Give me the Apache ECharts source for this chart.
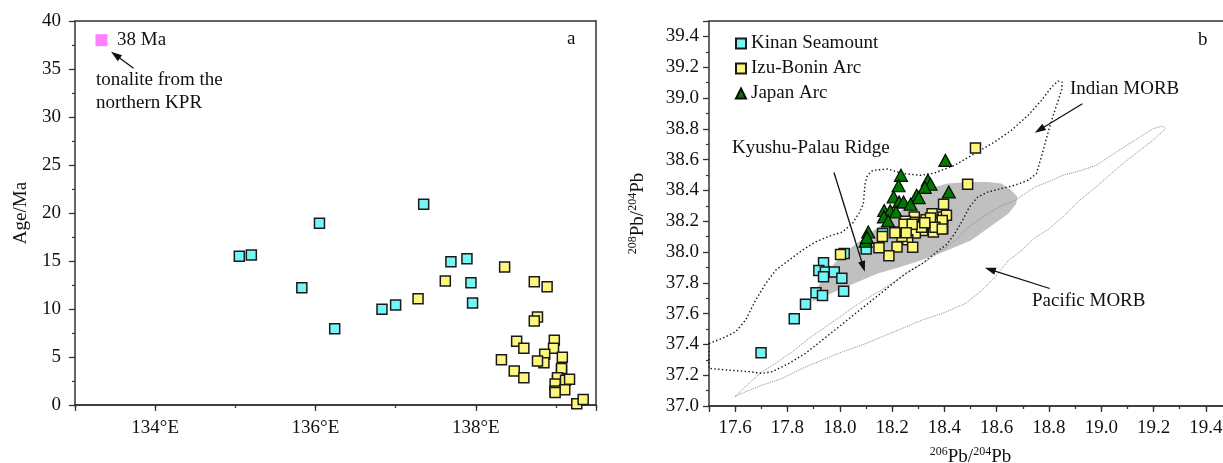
<!DOCTYPE html>
<html>
<head>
<meta charset="utf-8">
<script src="https://cdn.jsdelivr.net/npm/echarts@6/dist/echarts.min.js"></script>
<style>
html,body{margin:0;padding:0;background:#fff;}
#c{width:1223px;height:463px;}
</style>
</head>
<body>
<div id="c"></div>
<script>
// ---------- Panel a: longitude vs age ----------
const leftKinan = [[135.05,15.49],[135.20,15.63],[136.05,18.93],[135.83,12.22],[136.24,7.95],[137.35,20.91],[137.69,14.93],[137.89,15.24],[137.94,12.74],[137.96,10.63],[136.83,9.97],[137.00,10.42]];
const leftIzu = [[138.36,14.38],[137.62,12.92],[138.73,12.84],[138.89,12.32],[137.28,11.07],[138.77,9.17],[138.73,8.75],[138.51,6.64],[138.60,5.91],[138.32,4.72],[138.48,3.54],[138.60,2.84],[138.98,6.74],[138.97,5.91],[139.08,4.97],[138.86,5.28],[138.85,4.41],[138.77,4.58],[139.07,3.65],[139.07,3.8],[139.02,2.57],[139.02,2.85],[139.12,2.57],[139.17,2.68],[138.99,2.19],[139.11,1.59],[138.99,1.46],[138.99,1.3],[139.26,0.12],[139.34,0.56]];
const tonalite = [[133.33,38.0]];
const leftArrows = [[[133.73,35.07],[133.45,36.8]]];

// ---------- Panel b: 206Pb/204Pb vs 208Pb/204Pb ----------
const rightKinan = [[17.699,37.346],[17.826,37.566],[17.869,37.661],[17.909,37.735],[17.934,37.718],[18.015,37.745],[17.938,37.93],[17.92,37.88],[17.945,37.87],[17.938,37.84],[17.979,37.87],[18.008,37.83],[18.017,37.99],[18.101,38.02],[18.164,38.12]];
const rightIzu = [[18.519,38.675],[18.489,38.44],[18.397,38.31],[18.395,38.228],[18.408,38.239],[18.394,38.152],[18.353,38.249],[18.368,38.189],[18.33,38.21],[18.317,38.14],[18.358,38.13],[18.285,38.228],[18.283,38.193],[18.251,38.2],[18.256,38.135],[18.289,38.124],[18.26,38.08],[18.238,38.10],[18.215,38.13],[18.163,38.10],[18.219,38.033],[18.188,37.975],[18.15,38.027],[18.279,38.031],[18.003,37.984],[18.313,38.16],[18.347,38.22],[18.392,38.205],[18.364,38.16],[18.246,38.18],[18.277,38.18],[18.325,38.19],[18.211,38.125],[18.254,38.125],[18.392,38.15]];
const rightJapan = [[18.404,38.595],[18.234,38.498],[18.225,38.43],[18.337,38.466],[18.347,38.44],[18.325,38.42],[18.417,38.39],[18.206,38.357],[18.227,38.325],[18.244,38.325],[18.294,38.368],[18.271,38.31],[18.302,38.353],[18.17,38.27],[18.193,38.267],[18.215,38.26],[18.169,38.228],[18.185,38.202],[18.109,38.13],[18.099,38.07],[18.104,38.095]];
const indianMORB = [[17.5,37.406],[17.551,37.439],[17.602,37.482],[17.64,37.558],[17.678,37.687],[17.717,37.795],[17.755,37.882],[17.806,37.947],[17.857,38.012],[17.908,38.066],[17.959,38.102],[18.01,38.13],[18.048,38.185],[18.073,38.25],[18.09,38.31],[18.097,38.444],[18.106,38.498],[18.126,38.53],[18.183,38.539],[18.241,38.509],[18.311,38.498],[18.362,38.513],[18.439,38.563],[18.516,38.639],[18.592,38.714],[18.656,38.79],[18.72,38.887],[18.771,38.984],[18.81,39.071],[18.835,39.11],[18.851,39.103],[18.848,39.049],[18.829,38.952],[18.81,38.855],[18.79,38.736],[18.771,38.617],[18.752,38.509],[18.72,38.466],[18.669,38.433],[18.618,38.412],[18.567,38.39],[18.528,38.358],[18.496,38.293],[18.468,38.2],[18.44,38.12],[18.41,38.05],[18.379,38.012],[18.315,37.925],[18.251,37.86],[18.188,37.774],[18.124,37.687],[18.06,37.601],[17.997,37.514],[17.933,37.428],[17.869,37.342],[17.806,37.277],[17.742,37.223],[17.704,37.212],[17.653,37.223],[17.576,37.233],[17.5,37.244],[17.5,37.406]];
const pacificMORB = [[17.599,37.061],[17.653,37.147],[17.697,37.216],[17.755,37.277],[17.818,37.352],[17.882,37.439],[17.946,37.514],[18.01,37.59],[18.073,37.666],[18.137,37.731],[18.2,37.795],[18.264,37.871],[18.328,37.936],[18.392,38.012],[18.443,38.077],[18.493,38.163],[18.557,38.239],[18.621,38.304],[18.672,38.336],[18.746,38.422],[18.797,38.455],[18.853,38.498],[18.925,38.53],[18.98,38.563],[19.05,38.64],[19.107,38.703],[19.197,38.8],[19.235,38.818],[19.245,38.8],[19.197,38.725],[19.14,38.65],[19.082,38.574],[18.98,38.422],[18.917,38.336],[18.853,38.228],[18.8,38.15],[18.742,38.087],[18.697,38.012],[18.646,37.947],[18.595,37.839],[18.544,37.752],[18.481,37.666],[18.392,37.601],[18.315,37.558],[18.239,37.504],[18.162,37.45],[18.086,37.396],[18.01,37.352],[17.933,37.298],[17.857,37.244],[17.78,37.179],[17.704,37.136],[17.64,37.093],[17.599,37.061]];
const kprField = [[17.895,37.677],[17.966,37.731],[18.055,37.795],[18.145,37.86],[18.234,37.904],[18.311,37.947],[18.413,38.012],[18.503,38.077],[18.592,38.185],[18.644,38.249],[18.675,38.314],[18.679,38.358],[18.656,38.401],[18.618,38.444],[18.567,38.455],[18.49,38.455],[18.413,38.444],[18.362,38.422],[18.324,38.39],[18.285,38.336],[18.234,38.271],[18.183,38.206],[18.132,38.141],[18.081,38.077],[18.03,38.012],[17.979,37.925],[17.94,37.839],[17.908,37.752],[17.895,37.677]];
const rightArrows = [
  [[18.928,38.963],[18.746,38.775]],   // Indian MORB
  [[17.978,38.516],[18.096,37.871]],   // Kyushu-Palau Ridge
  [[18.803,37.763],[18.555,37.897]]    // Pacific MORB
];

const legendNames = ['Kinan Seamount','Izu-Bonin Arc','Japan Arc'];

const FONT = 'Liberation Serif';
const FS = 19;
const TXT = '#111';
const AX = '#333';
const CYAN = '#74f6f6';
const YEL = '#fdf77c';
const GREEN = '#007a00';

function evenTenth(v){ const t = Math.round(v*10); return Math.abs(v*10 - t) < 1e-6 && t % 2 === 0; }

const chart = echarts.init(document.getElementById('c'), null, {renderer:'canvas'});

const tickLine = {lineStyle:{color:AX, width:1.3}};
const baseAxisLine = {show:true, onZero:false, lineStyle:{color:AX, width:1.5}};
const labelStyle = {fontFamily:FONT, fontSize:FS, color:TXT};

function arrowSeries(xi, yi, arrows){
  return {
    type:'custom', xAxisIndex:xi, yAxisIndex:yi, silent:true, z:8,
    data: arrows.map(a => [a[1][0], a[1][1]]),
    renderItem:(params, api)=>{
      const a = arrows[params.dataIndex];
      const p0 = api.coord(a[0]), p1 = api.coord(a[1]);
      const dx = p1[0]-p0[0], dy = p1[1]-p0[1];
      const L = Math.hypot(dx, dy) || 1;
      const ux = dx/L, uy = dy/L;
      const hl = 11, hw = 3.6;
      const b = [p1[0]-ux*hl, p1[1]-uy*hl];
      const l = [b[0]-uy*hw, b[1]+ux*hw];
      const r = [b[0]+uy*hw, b[1]-ux*hw];
      return {type:'group', children:[
        {type:'line', shape:{x1:p0[0], y1:p0[1], x2:b[0]+ux*2, y2:b[1]+uy*2}, style:{stroke:'#111', lineWidth:1.3}},
        {type:'polygon', shape:{points:[p1, l, r]}, style:{fill:'#111'}}
      ]};
    }
  };
}

const supRich = {
  n:{fontFamily:FONT, fontSize:FS, color:TXT, lineHeight:22},
  s:{fontFamily:FONT, fontSize:12, color:TXT, verticalAlign:'top', lineHeight:14, padding:[0,0,6,0]}
};

const tf = FS + 'px "Liberation Serif"';

chart.setOption({
  animation:false,
  backgroundColor:'#fff',
  grid:[
    {left:75, top:21, width:521, height:384, containLabel:false, outerBoundsMode:'none'},
    {left:709, top:21, width:523, height:385, containLabel:false, outerBoundsMode:'none'}
  ],
  legend:{
    data:[{name:'Kinan Seamount', icon:'rect'},{name:'Izu-Bonin Arc', icon:'rect'},{name:'Japan Arc', icon:'triangle'}],
    orient:'vertical', left:730, top:29, padding:5, itemWidth:10, itemHeight:10, itemGap:6,
    selectedMode:false, textStyle:{fontFamily:FONT, fontSize:FS, color:TXT}
  },
  xAxis:[
    {type:'value', gridIndex:0, min:133, max:139.5, interval:1, position:'bottom',
     axisLine:baseAxisLine, axisTick:{show:true, length:3, ...tickLine}, axisLabel:{show:false}, splitLine:{show:false}},
    {type:'value', gridIndex:0, min:133, max:139.5, splitNumber:3, position:'bottom',
     axisLine:baseAxisLine, axisTick:{show:true, length:6, ...tickLine},
     axisLabel:{...labelStyle, margin:14, hideOverlap:false,
       formatter:v=>{const r=Math.round(v); return (Math.abs(v-r)<1e-6 && r%2===0)? r+'°E' : '';}},
     splitLine:{show:false}},
    {type:'value', gridIndex:0, min:133, max:139.5, position:'top',
     axisLine:baseAxisLine, axisTick:{show:false}, axisLabel:{show:false}, splitLine:{show:false}},
    {type:'value', gridIndex:1, min:17.5, max:19.5, interval:0.1, position:'bottom',
     axisLine:baseAxisLine, axisTick:{show:true, length:3, ...tickLine}, axisLabel:{show:false}, splitLine:{show:false}},
    {type:'value', gridIndex:1, min:17.5, max:19.5, splitNumber:10, position:'bottom',
     axisLine:baseAxisLine, axisTick:{show:true, length:6, ...tickLine},
     axisLabel:{...labelStyle, margin:13, hideOverlap:false, formatter:v=>evenTenth(v)? v.toFixed(1) : ''},
     splitLine:{show:false},
     name:'{s|206}{n|Pb/}{s|204}{n|Pb}', nameLocation:'middle', nameGap:40,
     nameTextStyle:{fontFamily:FONT, fontSize:FS, color:TXT, rich:supRich}},
    {type:'value', gridIndex:1, min:17.5, max:19.5, position:'top',
     axisLine:baseAxisLine, axisTick:{show:false}, axisLabel:{show:false}, splitLine:{show:false}}
  ],
  yAxis:[
    {type:'value', gridIndex:0, min:0, max:40, interval:5, position:'left',
     axisLine:baseAxisLine, axisTick:{show:true, length:6, ...tickLine},
     minorTick:{show:true, splitNumber:2, length:3, lineStyle:{color:AX, width:1.2}},
     axisLabel:{...labelStyle, margin:14}, splitLine:{show:false}, minorSplitLine:{show:false},
     name:'Age/Ma', nameLocation:'middle', nameGap:44,
     nameTextStyle:{fontFamily:FONT, fontSize:FS, color:TXT}},
    {type:'value', gridIndex:0, min:0, max:40, position:'right',
     axisLine:baseAxisLine, axisTick:{show:false}, axisLabel:{show:false}, splitLine:{show:false}},
    {type:'value', gridIndex:1, min:37, max:39.5, interval:0.2, position:'left',
     axisLine:baseAxisLine, axisTick:{show:true, length:6, ...tickLine},
     minorTick:{show:true, splitNumber:2, length:3, lineStyle:{color:AX, width:1.2}},
     axisLabel:{...labelStyle, margin:10, formatter:v=>evenTenth(v)? v.toFixed(1) : ''},
     splitLine:{show:false}, minorSplitLine:{show:false},
     name:'{s|208}{n|Pb/}{s|204}{n|Pb}', nameLocation:'middle', nameGap:60,
     nameTextStyle:{fontFamily:FONT, fontSize:FS, color:TXT, rich:supRich}}
  ],
  series:[
    // ----- panel a -----
    {name:'Kinan Seamount', type:'scatter', xAxisIndex:1, yAxisIndex:0, data:leftKinan,
     symbol:'rect', symbolSize:10, itemStyle:{color:CYAN, borderColor:'#1a1a1a', borderWidth:1.5, opacity:1}, z:5},
    {name:'Izu-Bonin Arc', type:'scatter', xAxisIndex:1, yAxisIndex:0, data:leftIzu,
     symbol:'rect', symbolSize:10, itemStyle:{color:YEL, borderColor:'#1a1a1a', borderWidth:1.5, opacity:1}, z:5},
    {name:'tonalite', type:'scatter', xAxisIndex:1, yAxisIndex:0, data:tonalite,
     symbol:'rect', symbolSize:12, itemStyle:{color:'#ff80ff', opacity:1}, z:5},
    arrowSeries(1, 0, leftArrows),
    // ----- panel b fields -----
    {name:'KPR field', type:'custom', xAxisIndex:4, yAxisIndex:2, data:[[18.3,38.1]], silent:true, z:1, clip:true,
     renderItem:(params, api)=>({type:'polygon', shape:{points:kprField.map(p=>api.coord(p))}, style:{fill:'#c0c0c0', stroke:'none'}})},
    {name:'Pacific MORB', type:'line', xAxisIndex:4, yAxisIndex:2, data:pacificMORB, showSymbol:false, symbol:'none',
     silent:true, z:2, lineStyle:{color:'#8c8c8c', width:1, type:[1,1]}},
    {name:'Indian MORB', type:'line', xAxisIndex:4, yAxisIndex:2, data:indianMORB, showSymbol:false, symbol:'none',
     silent:true, z:2, lineStyle:{color:'#111', width:1.4, type:[1.4,2.4]}},
    arrowSeries(4, 2, rightArrows),
    // ----- panel b points -----
    {name:'Kinan Seamount', type:'scatter', xAxisIndex:4, yAxisIndex:2, data:rightKinan,
     symbol:'rect', symbolSize:10, itemStyle:{color:CYAN, borderColor:'#1a1a1a', borderWidth:1.5, opacity:1}, z:5},
    {name:'Japan Arc', type:'scatter', xAxisIndex:4, yAxisIndex:2, data:rightJapan,
     symbol:'triangle', symbolSize:[13,12], itemStyle:{color:GREEN, borderColor:'#0a0a0a', borderWidth:1.2, opacity:1}, z:6},
    {name:'Izu-Bonin Arc', type:'scatter', xAxisIndex:4, yAxisIndex:2, data:rightIzu,
     symbol:'rect', symbolSize:10, itemStyle:{color:YEL, borderColor:'#1a1a1a', borderWidth:1.5, opacity:1}, z:7}
  ],
  graphic:[
    {type:'text', left:117, top:31, style:{text:'38 Ma', font:tf, fill:TXT}},
    {type:'text', left:96, top:71, style:{text:'tonalite from the', font:tf, fill:TXT}},
    {type:'text', left:96, top:94, style:{text:'northern KPR', font:tf, fill:TXT}},
    {type:'text', left:567, top:30, style:{text:'a', font:tf, fill:TXT}},
    {type:'text', left:1198, top:31, style:{text:'b', font:tf, fill:TXT}},
    {type:'text', left:1070, top:80, style:{text:'Indian MORB', font:tf, fill:TXT}},
    {type:'text', left:732, top:139, style:{text:'Kyushu-Palau Ridge', font:tf, fill:TXT}},
    {type:'text', left:1032, top:292, style:{text:'Pacific MORB', font:tf, fill:TXT}}
  ]
});
</script>
</body>
</html>
